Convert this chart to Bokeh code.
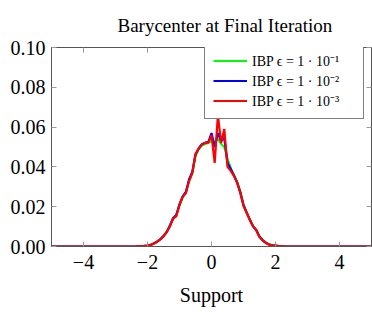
from bokeh.plotting import figure
from bokeh.models import Legend, LegendItem, LinearAxis, FixedTicker, PrintfTickFormatter, Range1d
from bokeh.embed import file_html
from bokeh.resources import INLINE

# support grid: -5.0 .. 5.0 step 0.1 (101 points)
support = [round(-5.0 + 0.1 * i, 1) for i in range(101)]

zeros_left = [0.0] * 25   # -5.0 .. -2.6
zeros_right = [0.0] * 25  # 2.6 .. 5.0

# values from -2.5 to 2.5 (51 points)
red_core = [0.0000, 0.0000, 0.0001, 0.0002, 0.0003, 0.0005, 0.0008, 0.0015, 0.0024, 0.0036,
            0.0051, 0.0072, 0.0102, 0.0140, 0.0152, 0.0210, 0.0250, 0.0268, 0.0330, 0.0370,
            0.0465, 0.0492, 0.0512, 0.0520, 0.0522, 0.0560, 0.0420, 0.0660, 0.0520, 0.0590,
            0.0400, 0.0380, 0.0355, 0.0320, 0.0270, 0.0205, 0.0168, 0.0132, 0.0100, 0.0082,
            0.0048, 0.0030, 0.0018, 0.0010, 0.0006, 0.0004, 0.0002, 0.0001, 0.0000, 0.0000,
            0.0000]
blue_core = [0.0000, 0.0000, 0.0001, 0.0002, 0.0003, 0.0005, 0.0008, 0.0015, 0.0024, 0.0036,
             0.0052, 0.0073, 0.0104, 0.0142, 0.0158, 0.0212, 0.0252, 0.0275, 0.0338, 0.0375,
             0.0462, 0.0494, 0.0514, 0.0522, 0.0525, 0.0570, 0.0500, 0.0570, 0.0530, 0.0545,
             0.0420, 0.0390, 0.0358, 0.0322, 0.0272, 0.0207, 0.0170, 0.0134, 0.0101, 0.0082,
             0.0049, 0.0031, 0.0018, 0.0010, 0.0006, 0.0004, 0.0002, 0.0001, 0.0000, 0.0000,
             0.0000]
green_core = [0.0000, 0.0000, 0.0001, 0.0002, 0.0003, 0.0005, 0.0009, 0.0016, 0.0025, 0.0037,
              0.0053, 0.0074, 0.0105, 0.0143, 0.0160, 0.0205, 0.0248, 0.0272, 0.0328, 0.0365,
              0.0455, 0.0488, 0.0508, 0.0515, 0.0520, 0.0530, 0.0525, 0.0540, 0.0515, 0.0500,
              0.0440, 0.0395, 0.0360, 0.0325, 0.0278, 0.0210, 0.0172, 0.0136, 0.0103, 0.0084,
              0.0051, 0.0032, 0.0019, 0.0011, 0.0007, 0.0004, 0.0002, 0.0001, 0.0000, 0.0000,
              0.0000]

green_vals = zeros_left + green_core + zeros_right
blue_vals = zeros_left + blue_core + zeros_right
red_vals = zeros_left + red_core + zeros_right

labels = ["IBP ϵ = 1 · 10⁻¹", "IBP ϵ = 1 · 10⁻²", "IBP ϵ = 1 · 10⁻³"]
colors = ["#00ff00", "#0000ff", "#ff0000"]

x_ticks = [-4, -2, 0, 2, 4]
y_ticks = [0.0, 0.02, 0.04, 0.06, 0.08, 0.10]

FONT = "Liberation Serif"
AXC = "#555555"
TICKC = "#999999"

p = figure(width=372, height=312, output_backend="svg", toolbar_location=None,
           x_range=Range1d(-5, 5), y_range=Range1d(0, 0.1),
           min_border_left=51, min_border_right=1, min_border_top=44, min_border_bottom=66)
p.title.text = "Barycenter at Final Iteration"
p.title.text_font = FONT
p.title.text_font_size = "19px"
p.title.text_font_style = "normal"
p.title.text_color = "black"
p.title.align = "left"
p.title.offset = 66
p.title.standoff = 24

p.xgrid.visible = False
p.ygrid.visible = False
p.outline_line_color = AXC
p.background_fill_color = "white"
p.border_fill_color = "white"

for ax in (p.xaxis[0], p.yaxis[0]):
    ax.axis_line_color = AXC
    ax.major_tick_line_color = TICKC
    ax.major_tick_in = 5
    ax.major_tick_out = 0
    ax.minor_tick_line_color = None
    ax.major_label_text_font = FONT
    ax.major_label_text_font_size = "20px"
    ax.major_label_text_color = "black"
    ax.axis_label_text_font = FONT
    ax.axis_label_text_font_size = "20px"
    ax.axis_label_text_font_style = "normal"
    ax.axis_label_text_color = "black"

p.xaxis.ticker = FixedTicker(ticks=x_ticks)
p.xaxis.major_label_overrides = {-4: "−4", -2: "−2", 0: "0", 2: "2", 4: "4"}
p.xaxis.axis_label = "Support"
p.xaxis.major_label_standoff = 8
p.xaxis.axis_label_standoff = 12
p.yaxis.ticker = FixedTicker(ticks=y_ticks)
p.yaxis.formatter = PrintfTickFormatter(format="%.2f")
p.yaxis.major_label_standoff = 6

# mirrored ticks on top and right (no labels)
top = LinearAxis(ticker=FixedTicker(ticks=x_ticks),
                 major_label_overrides={t: "" for t in x_ticks},
                 axis_line_color=AXC, major_tick_line_color=TICKC, major_tick_in=5,
                 major_tick_out=0, minor_tick_line_color=None, major_label_standoff=0)
right = LinearAxis(ticker=FixedTicker(ticks=y_ticks),
                   major_label_overrides={t: "" for t in y_ticks},
                   axis_line_color=AXC, major_tick_line_color=TICKC, major_tick_in=5,
                   major_tick_out=0, minor_tick_line_color=None, major_label_standoff=0)
p.add_layout(top, "above")
p.add_layout(right, "right")

r_g = p.line(support, green_vals, line_color=colors[0], line_width=2.2)
r_b = p.line(support, blue_vals, line_color=colors[1], line_width=2.2)
r_r = p.line(support, red_vals, line_color=colors[2], line_width=2.2)

legend = Legend(items=[LegendItem(label=labels[0], renderers=[r_g]),
                       LegendItem(label=labels[1], renderers=[r_b]),
                       LegendItem(label=labels[2], renderers=[r_r])],
                location=(153, 127))
legend.label_text_font = FONT
legend.label_text_font_size = "14px"
legend.label_text_color = "black"
legend.border_line_color = "black"
legend.border_line_width = 1
legend.background_fill_color = "white"
legend.background_fill_alpha = 1.0
legend.glyph_width = 34
legend.glyph_height = 17
legend.label_height = 17
legend.label_width = 103
legend.label_standoff = 5
legend.spacing = 1
legend.padding = 8
legend.margin = 0
p.add_layout(legend, "center")

open("out.html", "w").write(file_html(p, INLINE))
